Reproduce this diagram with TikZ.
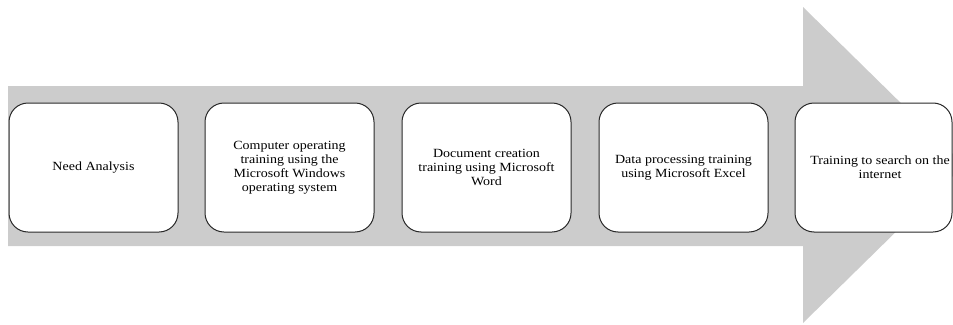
\documentclass[tikz,border=0pt]{standalone}
\usepackage{fontspec}
\setmainfont{Liberation Serif}[FakeStretch=1.12]
\definecolor{arrowgray}{RGB}{204,204,204}
\definecolor{boxline}{RGB}{40,40,40}
\begin{document}
\begin{tikzpicture}[x=1pt,y=-1pt,
  stepbox/.style={draw=boxline, line width=1pt, fill=white, rounded corners=19pt, minimum height=129pt, inner sep=0pt},
  lbl/.style={font=\fontsize{12.5}{14}\selectfont, align=center, inner sep=0pt}]
\useasboundingbox (0,0) rectangle (953,324);
\clip (0,0) rectangle (953,324);
\fill[arrowgray] (8,86) -- (803,86) -- (803,7) -- (964,165) -- (803,323) -- (803,246) -- (8,246) -- cycle;
\node[stepbox, minimum width=169pt] (b1) at (93.5,167.5) {};
\node[stepbox, minimum width=169pt] (b2) at (289.5,167.5) {};
\node[stepbox, minimum width=169pt] (b3) at (486.5,167.5) {};
\node[stepbox, minimum width=169pt] (b4) at (683.5,167.5) {};
\node[stepbox, minimum width=157pt] (b5) at (873.5,167.5) {};
\node[lbl] (t1) at (b1.center) {Need Analysis};
\node[lbl] (t2) at (b2.center) {Computer operating\\training using the\\Microsoft Windows\\operating system};
\node[lbl] (t3) at (b3.center) {Document creation\\training using Microsoft\\Word};
\node[lbl] (t4) at (b4.center) {Data processing training\\using Microsoft Excel};
\node[lbl] (t5) at (880,167.5) {Training to search on the\\internet};
\end{tikzpicture}
\end{document}
